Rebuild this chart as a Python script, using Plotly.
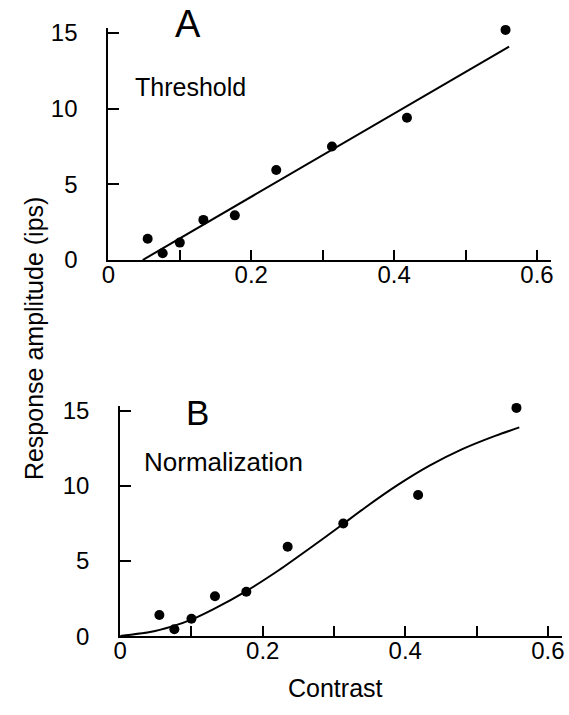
import plotly.graph_objects as go

# Data
contrast = [0.055, 0.076, 0.100, 0.133, 0.177, 0.235, 0.313, 0.418, 0.556]
response = [1.4, 0.45, 1.15, 2.65, 2.95, 5.95, 7.5, 9.4, 15.2]

# Threshold model fit (straight line)
thr_x = [0.048, 0.561]
thr_y = [0.0, 14.1]

# Normalization model fit
norm_x = [0.0, 0.04, 0.073, 0.10, 0.131, 0.177, 0.223, 0.269, 0.308, 0.342, 0.389, 0.434, 0.48, 0.527, 0.56]
norm_y = [0.0, 0.25, 0.65, 1.1, 1.8, 3.0, 4.4, 5.95, 7.3, 8.5, 10.05, 11.35, 12.45, 13.35, 13.9]

W, H = 569, 715
FONT = "Liberation Sans, Arial, Helvetica, sans-serif"

fig = go.Figure()

mk = dict(color="black", size=10)
ln = dict(color="black", width=2)

fig.add_trace(go.Scatter(x=thr_x, y=thr_y, mode="lines", line=ln, xaxis="x", yaxis="y", showlegend=False))
fig.add_trace(go.Scatter(x=contrast, y=response, mode="markers", marker=mk, xaxis="x", yaxis="y",
                         showlegend=False, cliponaxis=False))
fig.add_trace(go.Scatter(x=norm_x, y=norm_y, mode="lines",
                         line=dict(color="black", width=2, shape="spline", smoothing=0.5),
                         xaxis="x2", yaxis="y2", showlegend=False))
fig.add_trace(go.Scatter(x=contrast, y=response, mode="markers", marker=mk, xaxis="x2", yaxis="y2",
                         showlegend=False, cliponaxis=False))

tickfont = dict(family=FONT, size=24, color="black")

def xax(domain, anchor):
    return dict(domain=domain, anchor=anchor, range=[0, 0.62], showline=True, linecolor="black", linewidth=2,
                ticks="inside", ticklen=10, tickwidth=2, tickcolor="black",
                tickvals=[0, 0.2, 0.4, 0.6], ticktext=["0", "0.2", "0.4", "0.6"],
                minor=dict(tickvals=[0.1, 0.3, 0.5], ticks="inside", ticklen=10, tickwidth=2, tickcolor="black"),
                showgrid=False, zeroline=False, tickfont=tickfont, ticklabelstandoff=-8)

def yax(domain, anchor):
    return dict(domain=domain, anchor=anchor, range=[0, 15.3], showline=True, linecolor="black", linewidth=2,
                ticks="inside", ticklen=11, tickwidth=2, tickcolor="black", tickvals=[0, 5, 10, 15],
                showgrid=False, zeroline=False, tickfont=tickfont, ticklabelstandoff=24)

fig.update_layout(
    width=W, height=H, margin=dict(l=0, r=0, t=0, b=0),
    paper_bgcolor="white", plot_bgcolor="white",
    xaxis=xax([103 / W, 553 / W], "y"),
    yaxis=yax([(H - 259) / H, (H - 20) / H], "x"),
    xaxis2=xax([115 / W, 564 / W], "y2"),
    yaxis2=yax([(H - 647) / H, (H - 410) / H], "x2"),
)

def ann(text, x, y, size, angle=0):
    fig.add_annotation(text=text, x=x / W, y=1 - y / H, xref="paper", yref="paper", showarrow=False,
                       font=dict(family=FONT, size=size, color="black"), textangle=angle,
                       xanchor="center", yanchor="middle")

ann("A", 184, 15, 38)
ann("Threshold", 186, 80, 25)
ann("B", 194, 416, 35)
ann("Normalization", 220, 467, 26)
ann("Contrast", 334, 701, 25)
ann("Response amplitude (ips)", 27, 340, 25, angle=-90)

fig.write_html("out.html")
